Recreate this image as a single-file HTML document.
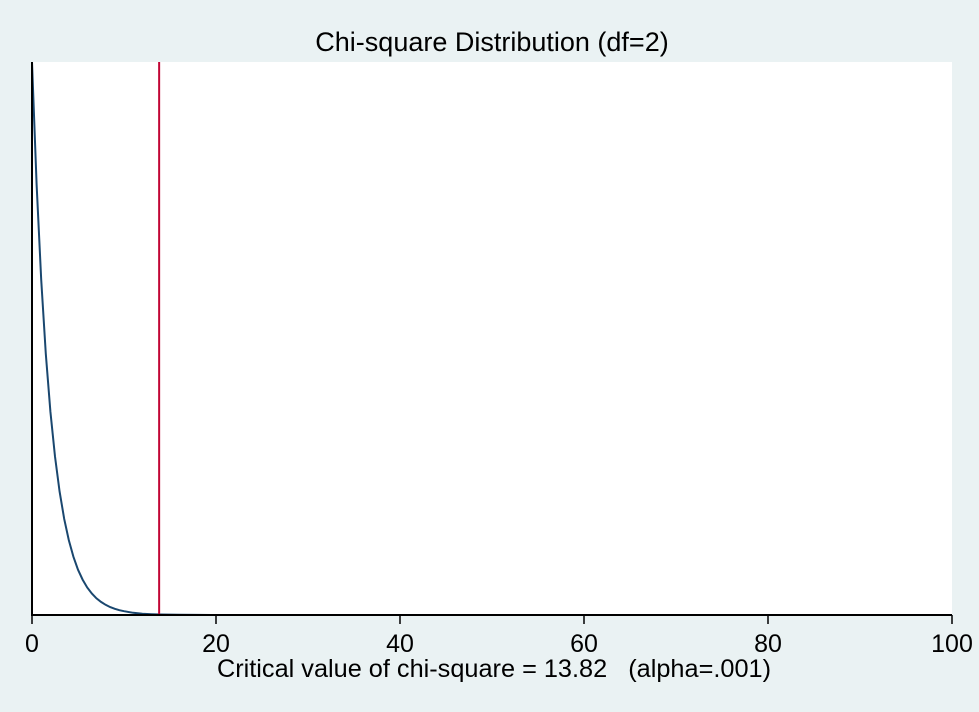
<!DOCTYPE html>
<html><head><meta charset="utf-8"><style>
body{margin:0;background:#eaf2f3;}
svg{display:block;font-family:"Liberation Sans",Arial,sans-serif;}
</style></head><body>
<svg width="979" height="712">
<rect x="0" y="0" width="979" height="712" fill="#eaf2f3"/>
<rect x="32" y="62" width="920" height="553" fill="#ffffff"/>
<text x="492" y="51" text-anchor="middle" font-size="27" fill="#000">Chi-square Distribution (df=2)</text>
<g id="ticks"></g>
<path id="curve" fill="none" stroke="#1a476f" stroke-width="2"/>
<line id="crit" stroke="#c10534" stroke-width="2"/>
<line x1="32" y1="62" x2="32" y2="616" stroke="#000" stroke-width="2"/>
<line x1="31" y1="615" x2="952" y2="615" stroke="#000" stroke-width="2"/>
<text x="494" y="677" text-anchor="middle" font-size="25.3" fill="#000" style="white-space:pre" xml:space="preserve">Critical value of chi-square = 13.82   (alpha=.001)</text>
</svg>
<script>
const xVals=[0,0.5,1,1.5,2,2.5,3,3.5,4,4.5,5,5.5,6,6.5,7,7.5,8,8.5,9,9.5,10,11,12,13,14,16,18,19.5];
const densVals=[0.5,0.3894,0.3033,0.2362,0.1839,0.1433,0.1116,0.0869,0.0677,0.0527,0.0410,0.0320,0.0249,0.0194,0.0151,0.0118,0.0092,0.0071,0.0056,0.0043,0.0034,0.0020,0.0012,0.00075,0.00046,0.00017,0.00006,0.00003];
const xTicks=[0,20,40,60,80,100];
const critical=[13.82];
const sx=v=>32+v/100*920;
const sy=v=>615-v/0.5*553;
const ns="http://www.w3.org/2000/svg";
document.getElementById('curve').setAttribute('d',xVals.map((x,i)=>(i?'L':'M')+sx(x).toFixed(1)+' '+sy(densVals[i]).toFixed(1)).join(' '));
const c=document.getElementById('crit');
c.setAttribute('x1',sx(critical[0]));c.setAttribute('x2',sx(critical[0]));
c.setAttribute('y1',62);c.setAttribute('y2',615);
const g=document.getElementById('ticks');
xTicks.forEach(t=>{
 const l=document.createElementNS(ns,'line');
 
 
 l.setAttribute('x1',sx(t));l.setAttribute('x2',sx(t));l.setAttribute('y1',615);l.setAttribute('y2',624);
 l.setAttribute('stroke','#000');l.setAttribute('stroke-width','1.5');
 g.appendChild(l);
 const tx=document.createElementNS(ns,'text');
 
 
 tx.setAttribute('x',sx(t));tx.setAttribute('y',652);tx.setAttribute('text-anchor','middle');
 tx.setAttribute('font-size','25');tx.textContent=t;
 g.appendChild(tx);
});
</script>
</body></html>
